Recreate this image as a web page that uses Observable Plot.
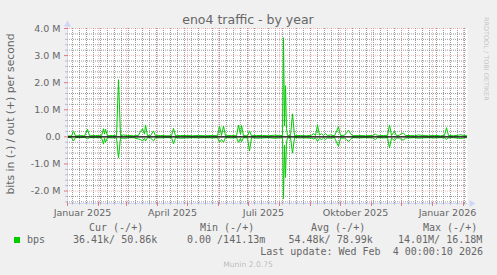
<!DOCTYPE html>
<html><head><meta charset="utf-8">
<script src="https://cdn.jsdelivr.net/npm/d3@7"></script>
<script src="https://cdn.jsdelivr.net/npm/@observablehq/plot@0.6"></script>
<style>html,body{margin:0;padding:0;background:#F0F0F0;overflow:hidden}</style>
</head><body><div id="chart"></div>
<script>
// ---- data ----
const startDate = "2025-01-01";
const endDate = "2026-02-05";
// day offsets from startDate
const dayOffsets = [0,4,6,8,13,17,20,22,28,34,36,37,38,40,45,49,51,53,56,60,66,71,73,75,77,78,80,83,86,88,93,99,104,106,108,113,119,125,131,138,145,150,152,154,156,158,164,169,171,173,174,176,180,182,184,189,195,201,207,212,215,216,217,218,219,220,223,225,227,233,239,244,246,248,250,252,254,256,258,260,263,267,271,273,277,279,281,283,285,291,298,305,308,310,316,320,322,324,327,329,332,334,336,338,343,347,351,355,361,367,373,377,379,381,386,391,393,396,399];
const outMbps = [0.03,0.03,0.22,0.03,0.05,0.03,0.28,0.04,0.05,0.04,0.30,0.10,0.28,0.04,0.05,0.04,2.11,0.04,0.07,0.05,0.04,0.05,0.20,0.30,0.10,0.44,0.05,0.04,0.22,0.04,0.05,0.04,0.04,0.31,0.04,0.05,0.05,0.04,0.05,0.04,0.05,0.04,0.40,0.05,0.40,0.04,0.05,0.04,0.43,0.10,0.43,0.04,0.04,0.22,0.04,0.05,0.05,0.04,0.06,0.05,0.05,3.66,0.40,1.89,0.30,0.05,0.04,0.85,0.04,0.05,0.04,0.06,0.12,0.05,0.44,0.06,0.12,0.05,0.12,0.05,0.07,0.04,0.37,0.05,0.06,0.15,0.25,0.12,0.04,0.05,0.04,0.05,0.10,0.04,0.05,0.04,0.44,0.05,0.20,0.05,0.06,0.12,0.14,0.05,0.05,0.04,0.07,0.05,0.04,0.05,0.04,0.05,0.34,0.05,0.04,0.06,0.08,0.05,0.04];
const inMbps = [0.02,0.03,0.15,0.02,0.03,0.02,0.07,0.03,0.03,0.03,0.27,0.05,0.20,0.03,0.04,0.04,0.78,0.03,0.06,0.04,0.03,0.08,0.10,0.15,0.05,0.15,0.03,0.04,0.15,0.03,0.04,0.03,0.03,0.26,0.03,0.05,0.04,0.03,0.04,0.03,0.04,0.03,0.20,0.10,0.20,0.03,0.04,0.03,0.20,0.05,0.18,0.03,0.04,0.52,0.03,0.05,0.04,0.03,0.05,0.04,0.04,2.28,0.30,1.50,0.20,0.04,0.03,0.60,0.03,0.04,0.04,0.05,0.08,0.04,0.17,0.05,0.10,0.04,0.10,0.04,0.05,0.03,0.35,0.04,0.05,0.10,0.17,0.10,0.03,0.04,0.03,0.04,0.10,0.03,0.04,0.03,0.41,0.04,0.14,0.04,0.05,0.10,0.12,0.04,0.04,0.03,0.05,0.04,0.03,0.04,0.03,0.04,0.09,0.04,0.03,0.05,0.06,0.04,0.03];
const yTickValues = [-2, -1, 0, 1, 2, 3, 4];
const yTickLabels = ["-2.0 M", "-1.0 M", "0.0", "1.0 M", "2.0 M", "3.0 M", "4.0 M"];
const xLabelDates = ["2025-01-16", "2025-04-16", "2025-07-16", "2025-10-16", "2026-01-16"];
const xLabels = ["Januar 2025", "April 2025", "Juli 2025", "Oktober 2025", "Januar 2026"];
const legendHeaders = ["Cur (-/+)", "Min (-/+)", "Avg (-/+)", "Max (-/+)"];
const legendValues = ["36.41k/ 50.86k", "0.00 /141.13m", "54.48k/ 78.99k", "14.01M/ 16.18M"];
const seriesName = "bps";
const titleText = "eno4 traffic - by year";
const yAxisTitle = "bits in (-) / out (+) per second";
const lastUpdate = "Last update: Wed Feb  4 00:00:10 2026";
const versionText = "Munin 2.0.75";
const watermark = "RRDTOOL / TOBI OETIKER";

// ---- derived tables ----
const t0 = new Date(startDate + "T00:00:00Z");
const t1 = new Date(endDate + "T00:00:00Z");
const outData = dayOffsets.map((d, i) => ({date: d3.utcDay.offset(t0, d), v: outMbps[i] * 1e6}));
const inData = dayOffsets.map((d, i) => ({date: d3.utcDay.offset(t0, d), v: -inMbps[i] * 1e6}));
const yMin = -2.46e6, yMax = 4.0e6;
const weeks = d3.utcMonday.range(t0, t1);
const months = d3.utcMonth.range(t0, t1);
const minorY = d3.range(-12, 21).map(k => k * 0.2e6).filter(v => Math.abs(v / 1e6 - Math.round(v / 1e6)) > 1e-6);
const majorY = yTickValues.map(v => v * 1e6);

const FONT = "DejaVu Sans";
const MONO = "DejaVu Sans Mono";
const TXT = "#666666";
const AXIS = "#CFD6F8";
const GREEN = "#00CC00";
const MINOR = "#8a8a8a";
const MAJOR = "#e88a8a";

const chart = Plot.plot({
  width: 497, height: 275,
  marginLeft: 67, marginRight: 30, marginTop: 28, marginBottom: 72,
  style: {background: "#F0F0F0", fontFamily: FONT, overflow: "visible"},
  x: {type: "utc", domain: [t0, t1], axis: null},
  y: {domain: [yMin, yMax], axis: null},
  marks: [
    Plot.frame({fill: "#FFFFFF", stroke: null}),
    // minor grid
    Plot.ruleX(weeks, {x: d => d, y1: yMin, y2: yMax, stroke: MINOR, strokeOpacity: 0.85, strokeDasharray: "1,1"}),
    Plot.ruleY(minorY, {y: d => d, x1: t0, x2: t1, stroke: MINOR, strokeOpacity: 0.85, strokeDasharray: "1,1"}),
    // major grid
    Plot.ruleX(months, {x: d => d, y1: yMin, y2: yMax, stroke: MAJOR, strokeOpacity: 0.6, strokeDasharray: "1,1"}),
    Plot.ruleY(majorY, {y: d => d, x1: t0, x2: t1, stroke: MAJOR, strokeOpacity: 0.6, strokeDasharray: "1,1"}),
    // data
    Plot.line(outData, {x: "date", y: "v", stroke: GREEN, strokeWidth: 1}),
    Plot.line(inData, {x: "date", y: "v", stroke: GREEN, strokeWidth: 1}),
    Plot.ruleY([0], {x1: t0, x2: t1, stroke: "#000000", strokeWidth: 1.4}),
    // axes
    Plot.ruleX([t0], {y1: yMin, y2: yMax, stroke: AXIS}),
    Plot.ruleY([yMin], {x1: t0, x2: t1, stroke: AXIS}),
    Plot.ruleX([t0], {y1: yMax, y2: yMax + 0.2e6, stroke: AXIS}),
    Plot.dot([t0], {x: d => d, y: yMax, dy: -4, symbol: "triangle", r: 2.6, fill: AXIS, stroke: null}),
    Plot.dot([t1], {x: d => d, y: yMin, dx: 4, symbol: "triangle", rotate: 90, r: 2.6, fill: AXIS, stroke: null}),
    // tick marks
    Plot.ruleX(weeks, {x: d => d, y1: yMin + 0.04e6, y2: yMin - 0.06e6, stroke: "#9a9a9a", strokeOpacity: 0.6}),
    Plot.ruleX(months, {x: d => d, y1: yMin + 0.05e6, y2: yMin - 0.11e6, stroke: "#e07a7a"}),
    Plot.ruleY(majorY, {y: d => d, x1: d3.utcDay.offset(t0, 1), x2: d3.utcDay.offset(t0, -3), stroke: "#e07a7a"}),
    Plot.ruleY(minorY, {y: d => d, x1: d3.utcDay.offset(t0, 1), x2: d3.utcDay.offset(t0, -2), stroke: "#9a9a9a", strokeOpacity: 0.6}),
    // tick labels
    Plot.text(yTickValues, {y: d => d * 1e6, text: (d, i) => yTickLabels[i], frameAnchor: "left", textAnchor: "end", dx: -7, fill: TXT, fontSize: 9.5}),
    Plot.text(xLabelDates, {x: d => new Date(d + "T00:00:00Z"), text: (d, i) => xLabels[i], frameAnchor: "bottom", lineAnchor: "top", dy: 6, fill: TXT, fontSize: 9.5})
  ]
});

const svg = d3.select(chart);
function addText(x, y, str, opts) {
  const t = svg.append("text").attr("x", x).attr("y", y)
    .attr("text-anchor", opts.anchor || "start")
    .attr("font-family", opts.family || FONT).attr("font-size", opts.size)
    .attr("fill", TXT).style("white-space", "pre").text(str);
  if (opts.opacity != null) t.attr("fill-opacity", opts.opacity);
  if (opts.transform) t.attr("transform", opts.transform).attr("x", 0).attr("y", 0);
  return t;
}
addText(248, 24, titleText, {anchor: "middle", size: 12.5});
addText(0, 0, yAxisTitle, {anchor: "middle", size: 10.8, transform: "translate(13.5,114) rotate(-90)"});
addText(0, 0, watermark, {anchor: "start", size: 6.5, opacity: 0.35, transform: "translate(484,17) rotate(90)"});

const headerX = [89, 200, 311, 423];
const valueX = [73, 187, 288.5, 398];
legendHeaders.forEach((h, i) => addText(headerX[i], 231, h, {family: MONO, size: 10}));
svg.append("rect").attr("x", 14).attr("y", 237).attr("width", 6).attr("height", 6).attr("fill", GREEN);
addText(27, 243, seriesName, {family: MONO, size: 10});
legendValues.forEach((v, i) => addText(valueX[i], 243, v, {family: MONO, size: 10}));
addText(483, 255, lastUpdate, {anchor: "end", family: MONO, size: 10});
addText(248, 266.5, versionText, {anchor: "middle", size: 7.6, opacity: 0.4});

document.getElementById("chart").appendChild(chart);
</script>
</body></html>
